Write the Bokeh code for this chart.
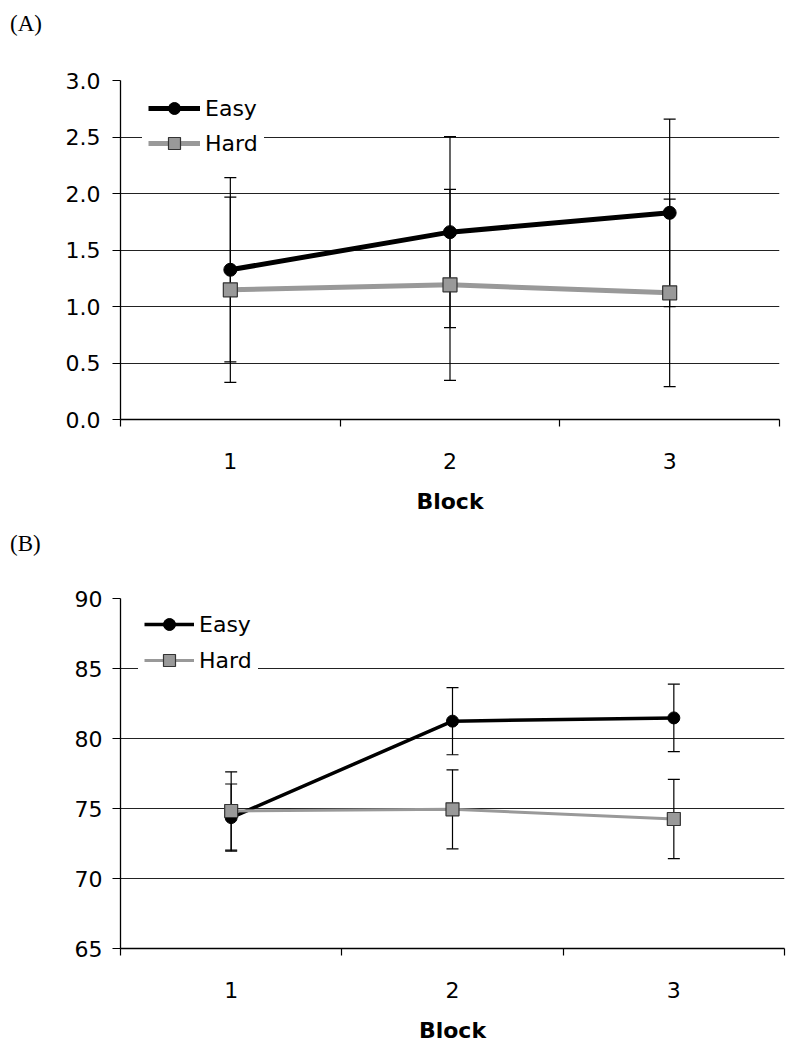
from bokeh.plotting import figure
from bokeh.models import (ColumnDataSource, Whisker, TeeHead, FixedTicker, Legend,
                          LegendItem, PrintfTickFormatter, Range1d, Div)
from bokeh.layouts import column
from bokeh.embed import file_html
from bokeh.resources import INLINE

blocks = [1, 2, 3]
block_labels = ["1", "2", "3"]

a_easy = [1.325, 1.658, 1.829]
a_easy_err = [0.815, 0.845, 0.83]
a_hard = [1.148, 1.192, 1.121]
a_hard_err = [0.82, 0.845, 0.83]
a_yticks = [0.0, 0.5, 1.0, 1.5, 2.0, 2.5, 3.0]

b_easy = [74.35, 81.24, 81.47]
b_easy_err = [2.4, 2.4, 2.41]
b_hard = [74.82, 74.94, 74.25]
b_hard_err = [2.8, 2.82, 2.83]
b_yticks = [65, 70, 75, 80, 85, 90]

FONT = "DejaVu Sans"
GRAY = "#999999"


def tag_div(tag, pad_top):
    html = ('<div style="font-family:\'Liberation Serif\',serif;font-size:23px;'
            'line-height:23px;color:black;padding:%dpx 0 0 10px;">%s</div>' % (pad_top, tag))
    return Div(text=html, width=200, height=40, margin=0)


def panel(easy, easy_err, hard, hard_err, yticks, fmt, cfg):
    p = figure(output_backend="svg", toolbar_location=None,
               frame_width=cfg["fw"], frame_height=cfg["fh"],
               x_range=Range1d(0.5, 3.5), y_range=Range1d(yticks[0], yticks[-1]),
               min_border_left=cfg["bl"], min_border_right=cfg["br"],
               min_border_top=cfg["bt"], min_border_bottom=cfg["bb"])
    p.outline_line_color = None
    p.background_fill_color = "white"
    p.border_fill_color = "white"

    # x axis
    xa = p.xaxis[0]
    xa.ticker = FixedTicker(ticks=blocks, minor_ticks=[0.5, 1.5, 2.5, 3.5])
    xa.major_label_overrides = {b: l for b, l in zip(blocks, block_labels)}
    xa.major_tick_out = 0
    xa.major_tick_in = 0
    xa.minor_tick_out = 7
    xa.minor_tick_in = 0
    xa.minor_tick_line_color = "black"
    xa.minor_tick_line_width = 1.2
    xa.axis_line_color = "black"
    xa.axis_line_width = 1.3
    xa.major_label_text_font = FONT
    xa.major_label_text_font_size = "22px"
    xa.major_label_text_color = "black"
    xa.major_label_standoff = cfg["xstand"]
    xa.axis_label = "Block"
    xa.axis_label_text_font = FONT
    xa.axis_label_text_font_size = "22px"
    xa.axis_label_text_font_style = "bold"
    xa.axis_label_text_color = "black"
    xa.axis_label_standoff = cfg["lstand"]

    # y axis
    ya = p.yaxis[0]
    ya.ticker = FixedTicker(ticks=yticks, minor_ticks=[])
    ya.formatter = PrintfTickFormatter(format=fmt)
    ya.major_tick_out = 8
    ya.major_tick_in = 0
    ya.major_tick_line_color = "black"
    ya.major_tick_line_width = 1.2
    ya.axis_line_color = "black"
    ya.axis_line_width = 1.3
    ya.major_label_text_font = FONT
    ya.major_label_text_font_size = "22px"
    ya.major_label_text_color = "black"
    ya.major_label_standoff = cfg["ystand"]

    p.xgrid.visible = False
    p.ygrid.ticker = FixedTicker(ticks=yticks)
    p.ygrid.grid_line_color = "#222222"
    p.ygrid.grid_line_width = 1.2

    es = ColumnDataSource(dict(x=blocks, y=easy,
                               lo=[v - e for v, e in zip(easy, easy_err)],
                               hi=[v + e for v, e in zip(easy, easy_err)]))
    hs = ColumnDataSource(dict(x=blocks, y=hard,
                               lo=[v - e for v, e in zip(hard, hard_err)],
                               hi=[v + e for v, e in zip(hard, hard_err)]))
    for src in (es, hs):
        w = Whisker(base="x", upper="hi", lower="lo", source=src,
                    line_color="black", line_width=1.2,
                    upper_head=TeeHead(size=12, line_color="black", line_width=1.2),
                    lower_head=TeeHead(size=12, line_color="black", line_width=1.2))
        p.add_layout(w)

    el = p.line("x", "y", source=es, line_color="black", line_width=cfg["elw"])
    em = p.scatter("x", "y", source=es, marker="circle", size=cfg["cs"],
                   fill_color="black", line_color="black")
    hl = p.line("x", "y", source=hs, line_color=GRAY, line_width=cfg["hlw"])
    hm = p.scatter("x", "y", source=hs, marker="square", size=cfg["ss"],
                   fill_color=GRAY, line_color="#333333", line_width=1.2)

    leg = Legend(items=[LegendItem(label="Easy", renderers=[el, em]),
                        LegendItem(label="Hard", renderers=[hl, hm])],
                 location=cfg["legloc"], margin=0, padding=6, spacing=cfg["lspace"],
                 glyph_width=cfg["gw"], glyph_height=30, label_height=30,
                 label_standoff=5, label_text_font=FONT,
                 label_text_font_size="22px", label_text_color="black",
                 background_fill_color="white", background_fill_alpha=1.0,
                 border_line_alpha=0)
    p.add_layout(leg, "center")
    return p


cfg_a = dict(fw=659, fh=339, bl=120, br=13, bt=40, bb=111,
             xstand=26, lstand=17, ystand=12, elw=5, hlw=5, cs=13, ss=14,
             legloc=(22, 255), lspace=5, gw=52)
cfg_b = dict(fw=664, fh=350, bl=117, br=11, bt=28, bb=90,
             xstand=26, lstand=17, ystand=10, elw=3.5, hlw=3, cs=12, ss=13,
             legloc=(18, 267), lspace=6, gw=50)

pa = panel(a_easy, a_easy_err, a_hard, a_hard_err, a_yticks, "%.1f", cfg_a)
pb = panel(b_easy, b_easy_err, b_hard, b_hard_err, b_yticks, "%d", cfg_b)

layout = column(tag_div("(A)", 12), pa, tag_div("(B)", 2), pb)
open("out.html", "w").write(file_html(layout, INLINE))
